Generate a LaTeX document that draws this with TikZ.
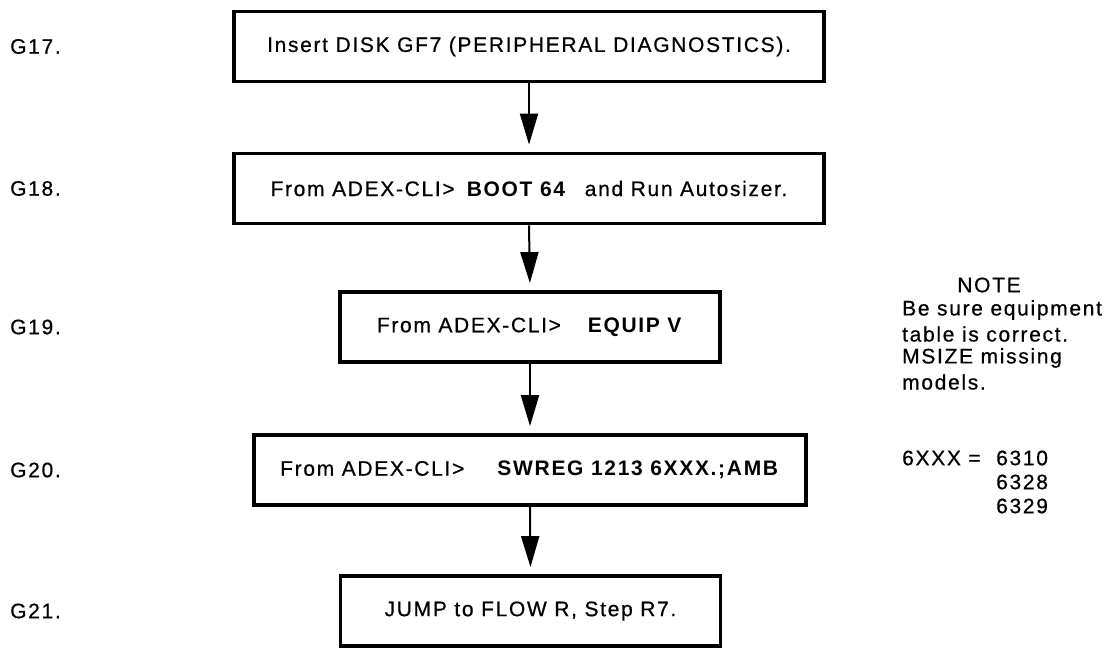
\documentclass[tikz,border=0pt]{standalone}
\usepackage{fontspec}
\setmainfont{Liberation Sans}[LetterSpace=8, UprightFeatures={FakeBold=0.6}]
\usetikzlibrary{arrows.meta}
\begin{document}
\begin{tikzpicture}[x=1pt,y=-1pt,
  txt/.style={font=\fontsize{21}{25}\selectfont, inner sep=0pt},
  stepbox/.style={txt, draw, line width=3.8pt, minimum height=70pt, align=center},
  steplabel/.style={txt, anchor=west},
  notetext/.style={txt, anchor=west},
  flow/.style={line width=2pt, -{Triangle[length=31pt,width=18pt]}, shorten >=7pt}
]
\useasboundingbox (0,0) rectangle (1109,648);

% flow-chart steps
\node[stepbox, minimum width=590pt] (s17) at (529,46.5)
  {Insert DISK GF7 (PERIPHERAL DIAGNOSTICS).};
\node[stepbox, minimum width=590pt] (s18) at (529,188.5)
  {From ADEX-CLI>\hspace{0.5em}\textbf{BOOT 64}\hspace{0.5em} and Run Autosizer.};
\node[stepbox, minimum width=380pt] (s19) at (530,327)
  {From ADEX-CLI>\hspace{1.2em}\textbf{EQUIP V}};
\node[stepbox, minimum width=552pt] (s20) at (530,470)
  {From ADEX-CLI>\hspace{1.5em}\textbf{SWREG 1213 6XXX.;AMB}};
\node[stepbox, minimum width=380pt] (s21) at (530.5,611)
  {JUMP to FLOW R, Step R7.};

% step numbers
\node[steplabel] (g17) at (10,46.5) {G17.};
\node[steplabel] (g18) at (10,188.5) {G18.};
\node[steplabel] (g19) at (10,327) {G19.};
\node[steplabel] (g20) at (10,470) {G20.};
\node[steplabel] (g21) at (10,611) {G21.};

% connectors
\draw[flow] (s17.south) -- (s18.north);
\draw[flow] (s18.south) -- (s19.north);
\draw[flow] (s19.south) -- (s20.north);
\draw[flow] (s20.south) -- (s21.north);

% side note
\node[txt] (nh) at (989,285) {NOTE};
\node[notetext] (n1) at (902,310) {Be sure equipment};
\node[notetext] (n2) at (902,334) {table is correct.};
\node[notetext] (n3) at (902,358) {MSIZE missing};
\node[notetext] (n4) at (902,382) {models.};
\node[notetext] (m0) at (902,458) {6XXX =};
\node[notetext] (m1) at (996,458) {6310};
\node[notetext] (m2) at (996,482) {6328};
\node[notetext] (m3) at (996,506) {6329};
\end{tikzpicture}
\end{document}
